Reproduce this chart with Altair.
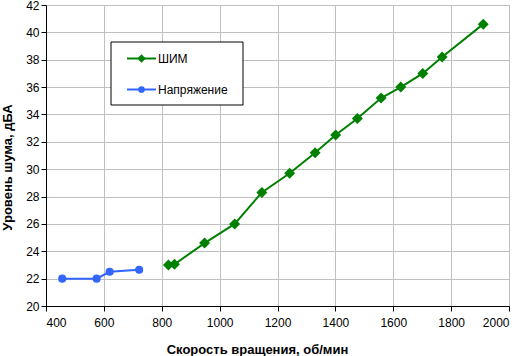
import altair as alt
import pandas as pd

# Data
pwm_rpm = [823, 844, 948, 1052, 1146, 1242, 1330, 1401, 1476, 1558, 1626, 1702, 1769, 1911]
pwm_db = [23.0, 23.05, 24.6, 26.0, 28.3, 29.7, 31.2, 32.5, 33.7, 35.2, 36.0, 37.0, 38.2, 40.6]
volt_rpm = [456, 575, 620, 722]
volt_db = [22.0, 22.0, 22.5, 22.65]
series_names = ["ШИМ", "Напряжение"]
series_colors = ["#008000", "#3366FF"]
series_shapes = ["diamond", "circle"]
x_ticks = [400, 600, 800, 1000, 1200, 1400, 1600, 1800, 2000]
y_ticks = [20, 22, 24, 26, 28, 30, 32, 34, 36, 38, 40, 42]

df = pd.concat([
    pd.DataFrame({"rpm": pwm_rpm, "db": pwm_db, "series": series_names[0]}),
    pd.DataFrame({"rpm": volt_rpm, "db": volt_db, "series": series_names[1]}),
])

FONT = "Liberation Sans"

x = alt.X("rpm:Q", scale=alt.Scale(domain=[400, 2000], nice=False, zero=False),
          axis=alt.Axis(values=x_ticks, title="Скорость вращения, об/мин",
                        labelPadding=6, format="d",
                        titleX=211, titleY=47, titleAlign="center", titleBaseline="alphabetic"))
y = alt.Y("db:Q", scale=alt.Scale(domain=[20, 42], nice=False, zero=False),
          axis=alt.Axis(values=y_ticks, title="Уровень шума, дБА",
                        labelPadding=2,
                        titleX=-35, titleY=162, titleAngle=-90, titleAlign="center",
                        titleBaseline="alphabetic"))
color = alt.Color("series:N", scale=alt.Scale(domain=series_names, range=series_colors), legend=None)
shape = alt.Shape("series:N", scale=alt.Scale(domain=series_names, range=series_shapes), legend=None)

lines = alt.Chart(df).mark_line(strokeWidth=2).encode(x=x, y=y, color=color, detail="series:N")
points = alt.Chart(df).mark_point(filled=True, opacity=1).encode(
    x=x, y=y, color=color, shape=shape,
    size=alt.condition(alt.datum.series == series_names[0], alt.value(120), alt.value(66)))

# Manual legend box (pixel positions inside plot area)
leg_df = pd.DataFrame({"a": [0]})
box = alt.Chart(leg_df).mark_rect(fill="white", stroke="black", strokeWidth=1).encode(
    x=alt.value(65), x2=alt.value(197), y=alt.value(37), y2=alt.value(100))
leg_layers = [box]
for i, (name, col, shp) in enumerate(zip(series_names, series_colors, series_shapes)):
    yy = 53.5 + i * 31
    leg_layers.append(alt.Chart(leg_df).mark_rule(color=col, strokeWidth=2).encode(
        x=alt.value(81), x2=alt.value(110), y=alt.value(yy)))
    leg_layers.append(alt.Chart(leg_df).mark_point(filled=True, opacity=1, color=col, shape=shp,
                                                   size=70 if i == 0 else 45).encode(
        x=alt.value(95.5), y=alt.value(yy)))
    leg_layers.append(alt.Chart(leg_df).mark_text(text=name, align="left", baseline="middle",
                                                  font=FONT, fontSize=12, color="black").encode(
        x=alt.value(112), y=alt.value(yy)))

chart = alt.layer(lines, points, *leg_layers).properties(
    width=463, height=301,
    autosize=alt.AutoSizeParams(type="none"),
    padding={"left": 46, "top": 5, "right": 13, "bottom": 50},
    background="white",
).configure_view(stroke="#808080", strokeWidth=1).configure_axis(
    domainColor="black", tickColor="black", tickSize=5, gridColor="#c0c0c0",
    labelFont=FONT, labelFontSize=12, labelColor="black",
    titleFont=FONT, titleFontSize=13, titleFontWeight="bold", titleColor="black",
)

chart.save("out.html", embed_options={"renderer": "svg", "actions": False})
